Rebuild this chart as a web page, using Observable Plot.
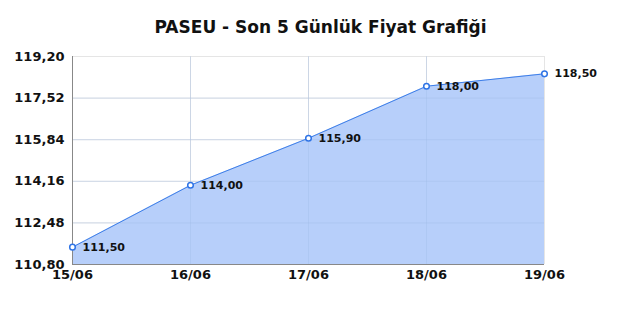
<!DOCTYPE html>
<html><head><meta charset="utf-8">
<script src="https://cdn.jsdelivr.net/npm/d3@7"></script>
<script src="https://cdn.jsdelivr.net/npm/@observablehq/plot@0.6"></script>
<style>body{margin:0;background:#fff;font-family:"DejaVu Sans",sans-serif}</style>
</head><body><div id="chart"></div>
<script>
const title = "PASEU - Son 5 Günlük Fiyat Grafiği";
const dates = ["15/06","16/06","17/06","18/06","19/06"];
const prices = [111.50, 114.00, 115.90, 118.00, 118.50];
const yTicks = [110.80, 112.48, 114.16, 115.84, 117.52, 119.20];

const data = dates.map((d,i)=>({d, v: prices[i]}));
const fmt = v => v.toFixed(2).replace(".", ",");

const chart = Plot.plot({
  width: 640, height: 320,
  marginTop: 56, marginLeft: 72, marginRight: 96, marginBottom: 56,
  style: {fontFamily: "DejaVu Sans, sans-serif", background: "#fff"},
  x: {type: "point", domain: dates, padding: 0, label: null},
  y: {domain: [110.8, 119.2], label: null},
  marks: [
    Plot.gridY(yTicks, {stroke: "#e5e5e5", strokeOpacity: 1}),
    Plot.gridX(dates, {stroke: "#e5e5e5", strokeOpacity: 1}),
    Plot.areaY(data, {x: "d", y1: 110.8, y2: "v", fill: "#b7cffa", fillOpacity: 1}),
    Plot.gridY(yTicks.slice(1,-1), {stroke: "#9fb9e6", strokeOpacity: 0.35}),
    Plot.gridX(dates.slice(1,-1), {stroke: "#9fb9e6", strokeOpacity: 0.35}),
    Plot.lineY(data, {x: "d", y: "v", stroke: "#3d7ee8", strokeWidth: 1}),
    Plot.ruleX([dates[0]], {stroke: "#888", strokeWidth: 1}),
    Plot.ruleY([110.8], {stroke: "#888", strokeWidth: 1}),
    Plot.dot(data, {x: "d", y: "v", r: 2.8, fill: "#fff", stroke: "#2f74e6", strokeWidth: 1.5}),
    Plot.text(data, {x: "d", y: "v", text: d => fmt(d.v), dx: 10, textAnchor: "start", fontSize: 11, fontWeight: "bold", fill: "#111"}),
    Plot.axisY(yTicks, {tickSize: 0, tickPadding: 8, tickFormat: fmt, fontSize: 13, fontWeight: "bold", fill: "#111"}),
    Plot.axisX(dates, {tickSize: 0, tickPadding: 5, fontSize: 13, fontWeight: "bold", fill: "#111"}),
    Plot.text([title], {frameAnchor: "top", dy: -36, dx: 12, fontSize: 17, fontWeight: "bold", fill: "#111", text: d => d})
  ]
});
document.getElementById("chart").appendChild(chart);
</script></body></html>
